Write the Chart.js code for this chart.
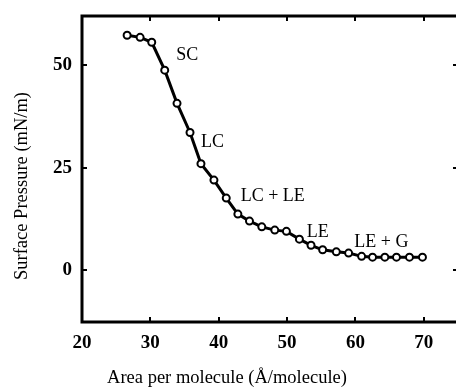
<!DOCTYPE html>
<html>
<head>
<meta charset="utf-8">
<script src="https://cdn.jsdelivr.net/npm/chart.js@4"></script>
<style>
  html, body { margin: 0; padding: 0; background: #fff; overflow: hidden; }
  #wrap { width: 456px; height: 391px; overflow: hidden; }
</style>
</head>
<body>
<div id="wrap"><canvas id="chart" width="460" height="391"></canvas></div>
<script>
// isotherm
var area = [26.6, 28.5, 30.2, 32.1, 33.9, 35.8, 37.4, 39.3, 41.1, 42.8, 44.5, 46.3, 48.2,
            49.9, 51.8, 53.5, 55.2, 57.2, 59.0, 60.9, 62.5, 64.3, 66.0, 67.9, 69.8];
var pressure = [57.3, 56.8, 55.6, 48.8, 40.7, 33.6, 26.0, 22.0, 17.6, 13.7, 12.0, 10.6, 9.8,
                9.5, 7.6, 6.1, 5.0, 4.5, 4.2, 3.4, 3.2, 3.2, 3.2, 3.2, 3.2];
var xTicks = [20, 30, 40, 50, 60, 70];
var yTicks = [0, 25, 50];
var phaseLabels = ["SC", "LC", "LC + LE", "LE", "LE + G"];
var phaseX = [35.4, 39.1, 47.9, 54.5, 63.8];
var phaseY = [52.4, 31.1, 18.0, 9.3, 6.9];

var serif = "'Liberation Serif', 'DejaVu Serif', serif";

function noPad(s) {
    s.paddingLeft = 0; s.paddingRight = 0; s.paddingTop = 0; s.paddingBottom = 0;
}

var extras = {
    id: "extras",
    afterDraw: function (chart) {
        var c = chart.ctx, a = chart.chartArea;
        var xs = chart.scales.x, ys = chart.scales.y;
        c.save();
        c.strokeStyle = "#000";
        // inward ticks, both sides
        c.lineWidth = 2;
        c.beginPath();
        xTicks.forEach(function (v) {
            var px = Math.round(xs.getPixelForValue(v));
            if (v === 20) return;
            c.moveTo(px, a.bottom); c.lineTo(px, a.bottom - 5);
            c.moveTo(px, a.top); c.lineTo(px, a.top + 5);
        });
        yTicks.forEach(function (v) {
            var py = Math.round(ys.getPixelForValue(v));
            c.moveTo(a.left, py); c.lineTo(a.left + 5, py);
            c.moveTo(a.right, py); c.lineTo(a.right - 5, py);
        });
        c.stroke();
        // frame
        c.lineWidth = 3;
        c.strokeRect(a.left, a.top, a.right - a.left, a.bottom - a.top);
        // phase labels
        c.fillStyle = "#000";
        c.font = "18px " + serif;
        c.textAlign = "center";
        c.textBaseline = "middle";
        phaseLabels.forEach(function (t, i) {
            c.fillText(t, xs.getPixelForValue(phaseX[i]), ys.getPixelForValue(phaseY[i]));
        });
        // axis titles
        c.font = "18.5px " + serif;
        c.fillText("Area per molecule (\u00C5/molecule)", 227, 378);
        c.translate(22, 186);
        c.rotate(-Math.PI / 2);
        c.fillText("Surface Pressure (mN/m)", 0, 0);
        c.restore();
    }
};

new Chart(document.getElementById("chart"), {
    type: "scatter",
    data: {
        datasets: [{
            data: area.map(function (x, i) { return { x: x, y: pressure[i] }; }),
            showLine: true,
            borderColor: "#000",
            borderWidth: 3,
            pointRadius: 3.5,
            pointBorderWidth: 2,
            pointBackgroundColor: "#fff",
            pointBorderColor: "#000"
        }]
    },
    options: {
        responsive: false,
        animation: false,
        layout: { autoPadding: false, padding: { top: 16, right: 2, left: 0, bottom: 0 } },
        plugins: { legend: { display: false }, tooltip: { enabled: false } },
        scales: {
            x: {
                type: "linear",
                min: 20,
                max: 75,
                afterBuildTicks: function (s) { s.ticks = xTicks.map(function (v) { return { value: v }; }); },
                afterFit: function (s) { s.height = 69; noPad(s); },
                grid: { display: false, drawTicks: false },
                border: { display: false },
                ticks: { padding: 10, color: "#000", font: { family: serif, size: 19, weight: "bold" } }
            },
            y: {
                min: -12.6,
                max: 62,
                afterBuildTicks: function (s) { s.ticks = yTicks.map(function (v) { return { value: v }; }); },
                afterFit: function (s) { s.width = 82; noPad(s); },
                grid: { display: false, drawTicks: false },
                border: { display: false },
                ticks: { padding: 10, color: "#000", font: { family: serif, size: 19, weight: "bold" } }
            }
        }
    },
    plugins: [extras]
});
</script>
</body>
</html>
